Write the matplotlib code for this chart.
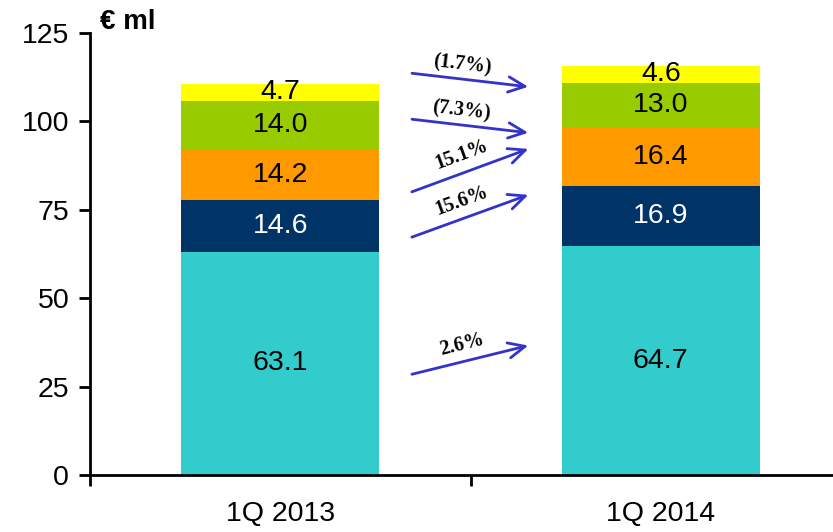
import numpy as np
import matplotlib
matplotlib.use("Agg")
import matplotlib.pyplot as plt

plt.rcParams['font.family'] = ['Liberation Sans', 'DejaVu Sans']

quarters = ["1Q 2013", "1Q 2014"]
teal = [63.1, 64.7]
navy = [14.6, 16.9]
orange = [14.2, 16.4]
green = [14.0, 13.0]
yellow = [4.7, 4.6]

segments = [teal, navy, orange, green, yellow]
colors = ["#33CCCC", "#003366", "#FF9900", "#99CC00", "#FFFF00"]
text_colors = ["black", "white", "black", "black", "black"]

# growth arrows: label, start value (left), end value (right)
growth_labels = ["(1.7%)", "(7.3%)", "15.1%", "15.6%", "2.6%"]
arrow_start = [113.7, 100.7, 79.8, 67.0, 28.3]
arrow_end = [109.7, 96.7, 92.5, 79.5, 36.8]

fig = plt.figure(figsize=(8.33, 5.32), dpi=100)
ax = fig.add_axes([90 / 833, 57 / 532, 761 / 833, 442 / 532])

x = np.arange(len(quarters))
bottom = np.zeros(len(quarters))
for vals, c, tc in zip(segments, colors, text_colors):
    ax.bar(x, vals, width=0.52, bottom=bottom, color=c, edgecolor='none')
    for xi, b, v in zip(x, bottom, vals):
        ax.text(xi, b + v / 2, f"{v:.1f}", ha='center', va='center',
                fontsize=20.5, color=tc)
    bottom += np.array(vals)

ax.set_xlim(-0.5, 1.5)
ax.set_ylim(0, 125)
ax.set_yticks(range(0, 126, 25))
ax.set_xticks(x)
ax.set_xticklabels(quarters)
ax.set_xticks([-0.5, 0.5, 1.5], minor=True)
ax.tick_params(axis='x', which='major', length=0, pad=19, labelsize=20.5)
ax.tick_params(axis='x', which='minor', length=8, width=2, direction='out')
ax.tick_params(axis='y', length=8, width=2, direction='out', pad=7, labelsize=20.5)
for s in ['top', 'right']:
    ax.spines[s].set_visible(False)
for s in ['left', 'bottom']:
    ax.spines[s].set_linewidth(2)

fig.canvas.draw()
x0, x1 = 0.339, 0.659
for lab, ys, ye in zip(growth_labels, arrow_start, arrow_end):
    ax.annotate("", xy=(x1, ye), xytext=(x0, ys),
                arrowprops=dict(arrowstyle='->,head_length=1.2,head_width=0.55',
                                color='#3333CC', lw=2))
    p0 = ax.transData.transform((x0, ys))
    p1 = ax.transData.transform((x1, ye))
    ang = np.degrees(np.arctan2(p1[1] - p0[1], p1[0] - p0[0]))
    ax.annotate(lab, xy=((x0 + x1) / 2, (ys + ye) / 2), xytext=(-6, 11),
                textcoords='offset points', ha='center', va='center',
                rotation=ang, rotation_mode='anchor', fontsize=14.5,
                fontweight='bold', family='Liberation Serif')

fig.text(100 / 833, 1 - 22 / 532, "€ ml", fontsize=20, fontweight='bold',
         va='center', ha='left')

fig.savefig("out.png", dpi=100)
